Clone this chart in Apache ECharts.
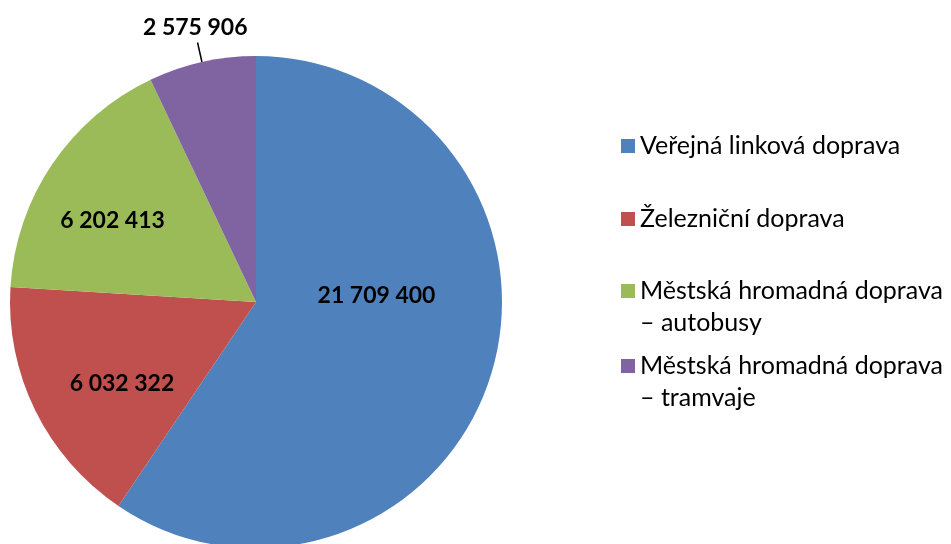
<!DOCTYPE html>
<html>
<head>
<meta charset="utf-8">
<script src="https://cdn.jsdelivr.net/npm/echarts@6/dist/echarts.min.js"></script>
<style>
html,body{margin:0;padding:0;background:#fff;}
#chart{width:951px;height:544px;}
</style>
</head>
<body>
<div id="chart"></div>
<script>
const categories = [
  'Veřejná linková doprava',
  'Železniční doprava',
  'Městská hromadná doprava – autobusy',
  'Městská hromadná doprava – tramvaje'
];
const values = [21709400, 6032322, 6202413, 2575906];
const colors = ['#4F81BD', '#C0504D', '#9BBB59', '#8064A2'];

const FONT = 'Lato';
function fmt(v) { return String(v).replace(/\B(?=(\d{3})+(?!\d))/g, ' '); }

const labelOffsets = [[0, -43], [-21, 26], [-39, -11], [55, -15]];
const legendTops = [130, 203, 243, 318];

const pieData = categories.map((c, i) => ({
  name: c,
  value: values[i],
  itemStyle: { color: colors[i] },
  label: i === 3
    ? { position: 'outside', offset: labelOffsets[i] }
    : { position: 'inside', offset: labelOffsets[i] },
  labelLine: { show: i === 3 }
}));

const legends = categories.map((c, i) => ({
  orient: 'vertical',
  left: 621,
  top: legendTops[i],
  padding: 0,
  icon: 'rect',
  itemWidth: 14,
  itemHeight: 14,
  itemGap: 0,
  selectedMode: false,
  formatter: n => n.indexOf(' – ') >= 0 ? '\n' + n.replace(' – ', '\n– ') : n,
  textStyle: { fontFamily: FONT, fontSize: 25, color: '#000', lineHeight: 32 },
  data: [c]
}));

const chart = echarts.init(document.getElementById('chart'), null, { renderer: 'canvas' });
chart.setOption({
  animation: false,
  backgroundColor: '#fff',
  legend: legends,
  series: [{
    type: 'pie',
    center: [256, 302],
    radius: 246,
    startAngle: 90,
    clockwise: true,
    avoidLabelOverlap: false,
    emphasis: { disabled: true },
    label: {
      show: true,
      formatter: p => fmt(p.value),
      fontFamily: FONT,
      fontWeight: 'bold',
      fontSize: 23,
      color: '#000'
    },
    labelLine: {
      length: 20,
      length2: 0,
      lineStyle: { color: '#000', width: 1.5 }
    },
    data: pieData
  }]
});
</script>
</body>
</html>
